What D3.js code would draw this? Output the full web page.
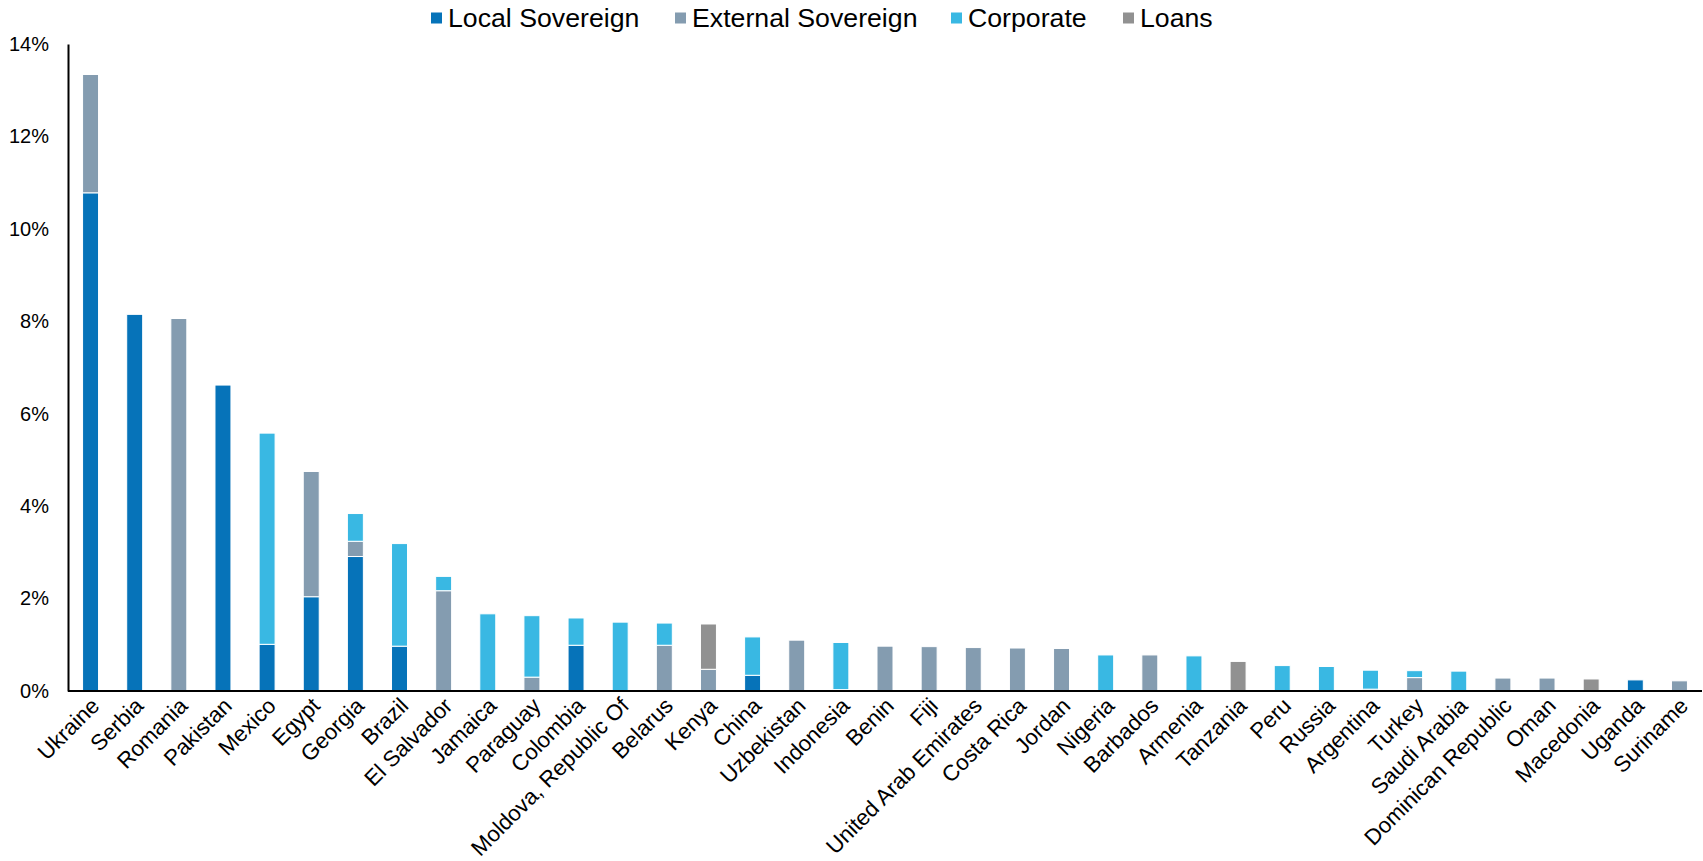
<!DOCTYPE html>
<html>
<head>
<meta charset="utf-8">
<script src="https://cdn.jsdelivr.net/npm/d3@7"></script>
<style>
  html, body { margin: 0; padding: 0; background: #fff; }
  svg { display: block; font-family: "Liberation Sans", Arial, sans-serif; }
</style>
</head>
<body>
<svg id="chart" width="1703" height="861"></svg>
<script>
// Countries, ordered by total exposure
const countries = ["Ukraine", "Serbia", "Romania", "Pakistan", "Mexico", "Egypt", "Georgia", "Brazil",
  "El Salvador", "Jamaica", "Paraguay", "Colombia", "Moldova, Republic Of", "Belarus", "Kenya", "China",
  "Uzbekistan", "Indonesia", "Benin", "Fiji", "United Arab Emirates", "Costa Rica", "Jordan", "Nigeria",
  "Barbados", "Armenia", "Tanzania", "Peru", "Russia", "Argentina", "Turkey", "Saudi Arabia",
  "Dominican Republic", "Oman", "Macedonia", "Uganda", "Suriname"];

// Exposure by instrument type, % of portfolio
const localSovereign = [10.78, 8.15, 0, 6.62, 1.01, 2.04, 2.91, 0.97, 0, 0, 0, 0.99, 0, 0, 0, 0.34,
  0, 0, 0, 0, 0, 0, 0, 0, 0, 0, 0, 0, 0, 0, 0, 0, 0, 0, 0, 0.24, 0];
const externalSovereign = [2.56, 0, 8.06, 0, 0, 2.71, 0.33, 0, 2.17, 0, 0.30, 0, 0, 0.99, 0.47, 0,
  1.10, 0.03, 0.97, 0.96, 0.94, 0.93, 0.92, 0, 0.78, 0, 0, 0, 0, 0.04, 0.29, 0, 0.28, 0.28, 0, 0, 0.22];
const corporate = [0, 0, 0, 0, 4.57, 0, 0.60, 2.22, 0.31, 1.67, 1.33, 0.59, 1.49, 0.48, 0, 0.83,
  0, 1.02, 0, 0, 0, 0, 0, 0.78, 0, 0.76, 0, 0.55, 0.53, 0.41, 0.15, 0.43, 0, 0, 0, 0, 0];
const loans = [0, 0, 0, 0, 0, 0, 0, 0, 0, 0, 0, 0, 0, 0, 0.98, 0,
  0, 0, 0, 0, 0, 0, 0, 0, 0, 0, 0.64, 0, 0, 0, 0, 0, 0, 0, 0.26, 0, 0];

const seriesNames = ["Local Sovereign", "External Sovereign", "Corporate", "Loans"];
const seriesColors = ["#0673b9", "#849cb0", "#39b8e3", "#919191"];
const yTicks = [0, 2, 4, 6, 8, 10, 12, 14];

const seriesValues = [localSovereign, externalSovereign, corporate, loans];
const rows = countries.map((c, i) => {
  const r = { country: c };
  seriesNames.forEach((s, k) => { r[s] = seriesValues[k][i]; });
  return r;
});

const svg = d3.select("#chart");
const plotLeft = 68, plotRight = 1702, plotTop = 44, plotBottom = 691;

const x = d3.scaleBand()
  .domain(countries)
  .range([plotLeft, plotRight])
  .paddingInner(0.638)
  .paddingOuter(0.33);

const y = d3.scaleLinear().domain([0, 14]).range([plotBottom, plotTop]);

const layers = d3.stack().keys(seriesNames)(rows);

// Stacked bar segments
const g = svg.append("g");
layers.forEach((layer, k) => {
  g.append("g")
    .attr("fill", seriesColors[k])
    .selectAll("rect")
    .data(layer.filter(d => d[1] - d[0] > 0))
    .join("rect")
    .attr("x", d => x(d.data.country))
    .attr("width", x.bandwidth())
    .attr("y", d => y(d[1]))
    .attr("height", d => y(d[0]) - y(d[1]))
    .attr("stroke", "#fff")
    .attr("stroke-width", 1);
});

// Y axis
const yAxis = svg.append("g")
  .attr("transform", `translate(${plotLeft},0)`)
  .call(d3.axisLeft(y).tickValues(yTicks).tickFormat(d => d + "%").tickSize(0).tickSizeOuter(0).tickPadding(19));
yAxis.select(".domain").attr("stroke", "#000").attr("stroke-width", 2);
yAxis.selectAll("text").attr("font-size", 20).attr("fill", "#000")
  .attr("font-family", "'Liberation Sans', Arial, sans-serif");

// X axis with slanted country names
const xAxis = svg.append("g")
  .attr("transform", `translate(0,${plotBottom})`)
  .call(d3.axisBottom(x).tickSize(0).tickSizeOuter(0));
xAxis.select(".domain").attr("stroke", "#000").attr("stroke-width", 2)
  .attr("d", `M${plotLeft},0H${plotRight}`);
xAxis.selectAll(".tick text")
  .attr("font-size", 22.2)
  .attr("fill", "#000")
  .attr("font-family", "'Liberation Sans', Arial, sans-serif")
  .attr("text-anchor", "end")
  .attr("y", 0)
  .attr("dy", "0.71em")
  .attr("transform", "translate(-1,5) rotate(-45)");

// Legend across the top; each entry's swatch position
const legendX = [431, 675, 951, 1123];
const legend = svg.append("g").attr("transform", "translate(0,18)");
seriesNames.forEach((name, k) => {
  const item = legend.append("g").attr("transform", `translate(${legendX[k]},0)`);
  item.append("rect").attr("x", 0).attr("y", -5.5).attr("width", 11).attr("height", 11)
    .attr("fill", seriesColors[k]);
  item.append("text").attr("x", 17).attr("y", 0).attr("dy", "0.35em")
    .attr("font-size", 26.7).attr("fill", "#000").text(name);
});
</script>
</body>
</html>
